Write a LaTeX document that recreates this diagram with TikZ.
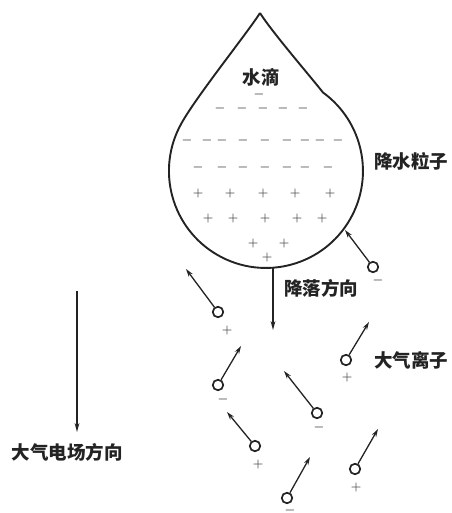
\documentclass[tikz,border=0pt]{standalone}
\usepackage{fontspec}
\newfontfamily\cjk{Noto Sans CJK SC}
\usetikzlibrary{arrows.meta}
\definecolor{ink}{RGB}{35,35,35}
\begin{document}
\begin{tikzpicture}[x=1pt,y=-1pt,
  labeltext/.style={font=\cjk\bfseries\fontsize{18.5}{18.5}\selectfont, text=ink, inner sep=0pt},
  ion/.style={circle, draw=ink, line width=1.7pt, minimum size=10.5pt, inner sep=0pt},
  pull/.style={draw=ink, line width=1.3pt, -{Stealth[length=8pt,width=4.8pt]}},
  fieldarrow/.style={draw=ink, line width=1.3pt, -{Stealth[length=9pt,width=4.8pt]}},
  dropline/.style={draw=ink, line width=1.9pt, line join=round},
  sign/.style={font=\boldmath\fontsize{12}{12}\selectfont, text=ink!85, inner sep=0pt},
]
\useasboundingbox (0,0) rectangle (451,513);

% raindrop outline: pointed top joined to a round body
\draw[dropline] (260,13) .. controls (248,32) and (196.5,96.3) .. (181.7,122.9)
  arc[start angle=209.7, end angle=-54, radius=97]
  .. controls (310,76) and (272,32) .. (260,13);

% charges inside the drop
\node[sign] (qtop) at (259,95) {$-$};
\foreach \x [count=\i] in {220,242,263,283,303}
  \node[sign] (qa\i) at (\x,109) {$-$};
\foreach \x [count=\i] in {187,207,222,243,265,287,305,320,338}
  \node[sign] (qb\i) at (\x,140) {$-$};
\foreach \x [count=\i] in {198,222,243,265,287,305,328}
  \node[sign] (qc\i) at (\x,167) {$-$};
\foreach \x [count=\i] in {198,230,263,295,330}
  \node[sign] (pa\i) at (\x,193) {$+$};
\foreach \x [count=\i] in {208,233,265,297,322}
  \node[sign] (pb\i) at (\x,218) {$+$};
\node[sign] (pc1) at (253,243) {$+$};
\node[sign] (pc2) at (284,243) {$+$};
\node[sign] (pd1) at (267,257) {$+$};

% labels
\node[labeltext] (droplabel) at (261,77) {水滴};
\node[labeltext] (particle) at (411,161) {降水粒子};
\node[labeltext] (falllabel) at (321,288) {降落方向};
\node[labeltext] (ionlabel) at (411,360) {大气离子};
\node[labeltext] (fieldlabel) at (67,452) {大气电场方向};

% falling direction and field direction
\coordinate (dropbottom) at (273,268);
\coordinate (fallend) at (273,330);
\draw[fieldarrow] (dropbottom) -- (fallend);
\coordinate (fieldtop) at (77,291);
\coordinate (fieldend) at (77,432);
\draw[fieldarrow] (fieldtop) -- (fieldend);

% atmospheric ions with their drift arrows and charge signs
\foreach \n/\cx/\cy/\tx/\ty/\sx/\sy/\s in {
  0/373/267/345/230/378/280/-,
  1/218/312/186/269/227/330/+,
  2/218/385/241/346/223/399/-,
  3/346/360/369/322/347/377/+,
  4/317/413/284/371/319/427/-,
  5/255/446/227/412/258/464/+,
  6/355/469/378/429/356/487/+,
  7/287/498/310/457/290/510/-}{
  \node[ion] (ion\n) at (\cx,\cy) {};
  \coordinate (tip\n) at (\tx,\ty);
  \draw[pull] (ion\n) -- (tip\n);
  \node[sign] (ionsign\n) at (\sx,\sy) {$\s$};
}
\end{tikzpicture}
\end{document}
